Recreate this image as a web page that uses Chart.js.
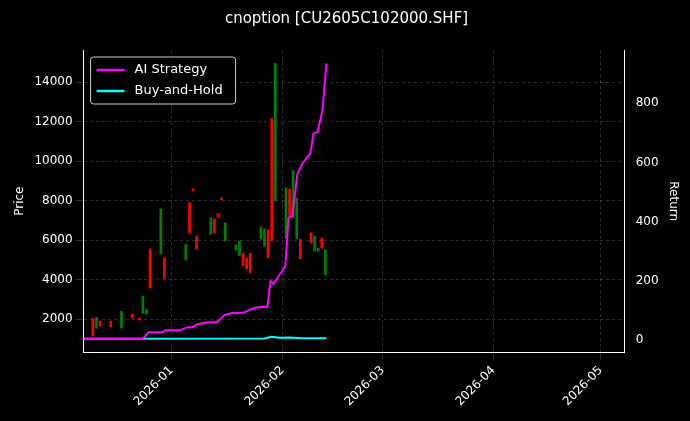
<!DOCTYPE html>
<html>
<head>
<meta charset="utf-8">
<script src="https://cdn.jsdelivr.net/npm/chart.js@4"></script>
<style>
  body { margin: 0; background: #000; }
  #wrap { width: 690px; height: 421px; }
</style>
</head>
<body>
<div id="wrap"><canvas id="myChart"></canvas></div>
<script>
// days counted from 2026-01-01
const candleDays = [-22, -21, -20, -17, -14, -11, -9, -8, -7, -6, -3, -2, 4, 5, 6, 7, 11, 12, 13, 14, 15, 18, 19, 20, 21, 22, 25, 26, 27, 28, 29, 32, 33, 34, 35, 36, 39, 40, 41, 42, 43];
const opens  = [2050, 1550, 1900, 1900, 1550, 2250, 2050, 2300, 2250, 5550, 5300, 5100, 5000, 7900, 8600, 6200, 6300, 7080, 7330, 8150, 5960, 5500, 5200, 5350, 5100, 5350, 6060, 5700, 6520, 12160, 8000, 6100, 8600, 7130, 6060, 6060, 6370, 5450, 5450, 6110, 4240];
const closes = [1150, 2100, 1650, 1600, 2400, 2050, 1950, 3170, 2500, 3570, 7590, 4080, 5800, 6370, 8500, 5550, 7130, 6370, 7180, 8050, 6880, 5750, 5970, 4700, 4540, 4340, 6670, 6570, 5100, 5960, 14950, 8650, 7230, 9520, 8150, 5050, 5860, 6200, 5600, 5600, 5500];

const aiDays = [-25, -8, -6.4, -2.5, -1.7, 2.5, 4.5, 5.9, 7.3, 10.1, 12.8, 14.8, 17, 20, 22.9, 24.9, 26.8, 27.7, 28.5, 31.8, 32.7, 33.8, 35.2, 36.6, 38.8, 39.7, 40.8, 42.2, 43.3];
const aiReturn = [5, 5, 27, 27, 34, 34, 44, 44, 54, 61, 61, 85, 92, 92, 108, 112, 112, 200, 190, 250, 414, 420, 563, 597, 630, 698, 702, 776, 935];
const bhDays = [-25, 26, 28, 30, 33, 36, 43.3];
const bhReturn = [5, 6, 12, 8, 9, 7, 7];

const monthTicks = [0, 31, 59, 90, 120];
const monthLabels = ['2026-01', '2026-02', '2026-03', '2026-04', '2026-05'];

const candles = candleDays.map((d, i) => ({ x: d, y: [opens[i], closes[i]] }));
const candleColors = candleDays.map((d, i) => closes[i] >= opens[i] ? '#008000' : '#ff0000');

const gridStyle = { color: 'rgba(128,128,128,0.6)', lineWidth: 0.6, offset: false };
const axisBorder = { color: '#ffffff', dash: [3, 3] };

const insideLegend = {
  id: 'insideLegend',
  afterDraw(chart) {
    const ctx = chart.ctx, a = chart.chartArea;
    const items = chart.data.datasets.filter(ds => ds.type === 'line');
    const x0 = a.left + 7, y0 = a.top + 7;
    ctx.save();
    ctx.fillStyle = 'rgba(0,0,0,0.8)';
    ctx.strokeStyle = '#cccccc';
    ctx.lineWidth = 1;
    ctx.beginPath();
    ctx.roundRect(x0, y0, 145, 47, 3);
    ctx.fill(); ctx.stroke();
    ctx.font = '13px "DejaVu Sans"';
    ctx.textBaseline = 'middle';
    items.forEach((ds, i) => {
      const y = y0 + 13 + i * 21;
      ctx.strokeStyle = ds.borderColor;
      ctx.lineWidth = 2.5;
      ctx.beginPath(); ctx.moveTo(x0 + 6, y); ctx.lineTo(x0 + 34, y); ctx.stroke();
      ctx.fillStyle = '#ffffff';
      ctx.fillText(ds.label, x0 + 44, y);
    });
    ctx.restore();
  }
};

const blackBg = {
  id: 'blackBg',
  beforeDraw(chart) {
    const ctx = chart.ctx;
    ctx.save();
    ctx.fillStyle = '#000';
    ctx.fillRect(0, 0, chart.width, chart.height);
    ctx.restore();
  }
};

Chart.defaults.font.family = '"DejaVu Sans", sans-serif';
Chart.defaults.color = '#ffffff';

new Chart(document.getElementById('myChart'), {
  type: 'bar',
  data: {
    datasets: [
      {
        type: 'bar',
        label: 'Price',
        data: candles,
        backgroundColor: candleColors,
        borderWidth: 0,
        barThickness: 2,
        yAxisID: 'y',
        order: 2
      },
      {
        type: 'line',
        label: 'AI Strategy',
        data: aiDays.map((d, i) => ({ x: d, y: aiReturn[i] })),
        borderColor: '#ff00ff',
        borderWidth: 2,
        pointRadius: 0,
        tension: 0,
        yAxisID: 'y1',
        order: 1
      },
      {
        type: 'line',
        label: 'Buy-and-Hold',
        data: bhDays.map((d, i) => ({ x: d, y: bhReturn[i] })),
        borderColor: '#00ffff',
        borderWidth: 2,
        pointRadius: 0,
        tension: 0,
        yAxisID: 'y1',
        order: 1
      }
    ]
  },
  options: {
    responsive: true,
    maintainAspectRatio: false,
    animation: false,
    layout: { padding: { top: 8, right: 6, left: 9, bottom: 9 } },
    plugins: {
      legend: { display: false },
      tooltip: { enabled: false },
      title: {
        display: true,
        text: 'cnoption [CU2605C102000.SHF]',
        color: '#ffffff',
        font: { size: 15, weight: 'normal' },
        padding: { top: 2, bottom: 22 }
      }
    },
    scales: {
      x: {
        type: 'linear',
        min: -24.6,
        max: 126.7,
        offset: false,
        afterBuildTicks(axis) { axis.ticks = monthTicks.map(v => ({ value: v })); },
        ticks: {
          color: '#ffffff',
          font: { size: 12 },
          minRotation: 45,
          maxRotation: 45,
          callback(v) { return monthLabels[monthTicks.indexOf(v)]; }
        },
        grid: gridStyle,
        border: axisBorder
      },
      y: {
        position: 'left',
        min: 322,
        max: 15627,
        afterBuildTicks(axis) { axis.ticks = [2000, 4000, 6000, 8000, 10000, 12000, 14000].map(v => ({ value: v })); },
        ticks: { color: '#ffffff', font: { size: 12 }, callback: v => String(v) },
        title: { display: true, text: 'Price', color: '#ffffff', font: { size: 12 } },
        grid: gridStyle,
        border: axisBorder
      },
      y1: {
        position: 'right',
        min: -41,
        max: 980,
        afterBuildTicks(axis) { axis.ticks = [0, 200, 400, 600, 800].map(v => ({ value: v })); },
        ticks: { color: '#ffffff', font: { size: 12 }, callback: v => String(v) },
        title: { display: true, text: 'Return', color: '#ffffff', font: { size: 12 } },
        grid: { display: false },
        border: { color: '#ffffff' }
      }
    }
  },
  plugins: [blackBg, insideLegend]
});
</script>
</body>
</html>
